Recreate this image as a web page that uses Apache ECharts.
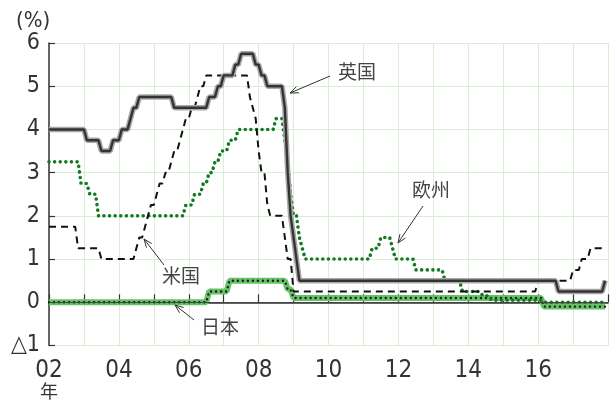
<!DOCTYPE html>
<html>
<head>
<meta charset="utf-8">
<script src="https://cdn.jsdelivr.net/npm/echarts@6/dist/echarts.min.js"></script>
<style>
  html, body { margin: 0; background: #fff; }
  #chart { width: 611px; height: 400px; }
</style>
</head>
<body>
<div id="chart"></div>
<script>
// 政策金利の変更点 [年, 月, %]
var ukChanges = [
  [2002,1,4.0],[2003,2,3.75],[2003,7,3.5],[2003,11,3.75],[2004,2,4.0],[2004,5,4.25],
  [2004,6,4.5],[2004,8,4.75],[2005,8,4.5],[2006,8,4.75],[2006,11,5.0],[2007,1,5.25],
  [2007,5,5.5],[2007,7,5.75],[2007,12,5.5],[2008,2,5.25],[2008,4,5.0],[2008,10,4.5],
  [2008,11,3.0],[2008,12,2.0],[2009,1,1.5],[2009,2,1.0],[2009,3,0.5],[2016,8,0.25],
  [2017,12,0.5]
];
var usChanges = [
  [2002,1,1.75],[2002,11,1.25],[2003,7,1.0],[2004,7,1.25],[2004,8,1.5],[2004,10,1.75],
  [2004,11,2.0],[2004,12,2.25],[2005,2,2.5],[2005,3,2.75],[2005,5,3.0],[2005,7,3.25],
  [2005,8,3.5],[2005,10,3.75],[2005,11,4.0],[2005,12,4.25],[2006,2,4.5],[2006,4,4.75],
  [2006,5,5.0],[2006,7,5.25],[2007,10,4.75],[2007,11,4.5],[2007,12,4.25],[2008,1,3.5],
  [2008,2,3.0],[2008,4,2.25],[2008,5,2.0],[2008,10,1.5],[2008,11,1.0],[2009,1,0.25],
  [2016,1,0.5],[2017,1,0.75],[2017,4,1.0],[2017,7,1.25]
];
var euChanges = [
  [2002,1,3.25],[2002,12,2.75],[2003,3,2.5],[2003,6,2.0],[2005,12,2.25],[2006,3,2.5],
  [2006,6,2.75],[2006,8,3.0],[2006,10,3.25],[2006,12,3.5],[2007,3,3.75],[2007,6,4.0],
  [2008,7,4.25],[2008,10,3.75],[2008,11,3.25],[2008,12,2.5],[2009,1,2.0],[2009,3,1.5],
  [2009,4,1.25],[2009,5,1.0],[2011,4,1.25],[2011,7,1.5],[2011,11,1.25],[2011,12,1.0],
  [2012,7,0.75],[2013,5,0.5],[2013,11,0.25],[2014,6,0.15],[2014,9,0.05],[2016,3,0.0]
];
var jpChanges = [
  [2002,1,0.0],[2006,8,0.25],[2007,3,0.5],[2008,11,0.3],[2009,1,0.1],[2016,3,-0.1]
];
var lastMonth = [2017, 12];

var yearTicks = ['02','04','06','08','10','12','14','16'];

function toTime(y, m) { return y + (m - 1) / 12; }

// 月次の折れ線にする（変更前月の点を角として入れる）
function buildLine(changes) {
  var pts = [];
  changes.forEach(function (c, i) {
    var t = toTime(c[0], c[1]);
    if (i > 0) pts.push([t - 1 / 12, changes[i - 1][2]]);
    pts.push([t, c[2]]);
  });
  pts.push([toTime(lastMonth[0], lastMonth[1]), changes[changes.length - 1][2]]);
  return pts;
}

var numFont = '"Liberation Sans Narrow", "DejaVu Sans Condensed", "Roboto", sans-serif';
var cjkFont = '"Noto Sans CJK JP", sans-serif';
var gridColor = '#d9eed5';

var ukData = buildLine(ukChanges);
var usData = buildLine(usChanges);
var euData = buildLine(euChanges);
var jpData = buildLine(jpChanges);

// 注記と矢印
var notes = [
  { text: '英国', pos: [357, 72],  from: [330, 76],  to: [290, 93] },
  { text: '欧州', pos: [431, 190], from: [423, 206], to: [398, 243] },
  { text: '米国', pos: [181, 276], from: [164, 265], to: [144, 239] },
  { text: '日本', pos: [220, 327], from: [194, 320], to: [175, 305] }
];
var graphics = [];
notes.forEach(function (n) {
  var a = Math.atan2(n.from[1] - n.to[1], n.from[0] - n.to[0]);
  var L = 9, s = 0.38;
  graphics.push({
    type: 'line', silent: true, z: 100,
    shape: { x1: n.from[0], y1: n.from[1], x2: n.to[0], y2: n.to[1] },
    style: { stroke: '#333', lineWidth: 1 }
  });
  graphics.push({
    type: 'polyline', silent: true, z: 100,
    shape: { points: [
      [n.to[0] + L * Math.cos(a + s), n.to[1] + L * Math.sin(a + s)],
      n.to,
      [n.to[0] + L * Math.cos(a - s), n.to[1] + L * Math.sin(a - s)]
    ] },
    style: { stroke: '#333', fill: 'none', lineWidth: 1 }
  });
  graphics.push({
    type: 'text', silent: true, z: 100, x: n.pos[0], y: n.pos[1],
    style: { text: n.text, fontSize: 19, fontFamily: cjkFont, fill: '#444',
             align: 'center', verticalAlign: 'middle' }
  });
});

var myChart = echarts.init(document.getElementById('chart'));
var option = {
  animation: false,
  title: {
    text: '(%)', left: 11, top: 5,
    textStyle: { fontSize: 22, fontWeight: 'normal', color: '#333', fontFamily: numFont }
  },
  grid: { left: 49, right: 2, top: 43, bottom: 54 },
  xAxis: {
    type: 'value', min: 2002, max: 2018, interval: 1,
    axisLine: { show: true, lineStyle: { color: '#333', width: 1.5 } },
    axisTick: { show: true, inside: true, length: 8, lineStyle: { color: '#333', width: 1.2 } },
    splitLine: { show: true, lineStyle: { color: gridColor, width: 1 } },
    axisLabel: {
      margin: 14, color: '#333',
      formatter: function (v) {
        var label = String(v).slice(2);
        if (yearTicks.indexOf(label) < 0) return '';
        return v === 2002 ? '{n|' + label + '}\n{k|年}' : '{n|' + label + '}';
      },
      rich: {
        n: { fontSize: 24, fontFamily: numFont, color: '#333', lineHeight: 22 },
        k: { fontSize: 18, fontFamily: cjkFont, color: '#333', lineHeight: 19 }
      }
    }
  },
  yAxis: {
    type: 'value', min: -1, max: 6, interval: 1,
    axisLine: { show: true, lineStyle: { color: '#333', width: 1.5 } },
    axisTick: { show: true, inside: true, length: 6, lineStyle: { color: '#333', width: 1.2 } },
    splitLine: { show: true, lineStyle: { color: gridColor, width: 1 } },
    axisLabel: {
      margin: 9, color: '#333', fontSize: 23, fontFamily: numFont,
      formatter: function (v) { return v < 0 ? '△' + Math.abs(v) : String(v); }
    }
  },
  graphic: graphics,
  series: [
    {
      // ゼロ線
      type: 'line', data: [], z: 1, silent: true,
      markLine: {
        silent: true, symbol: 'none', label: { show: false },
        lineStyle: { color: '#444', width: 1, type: 'solid' },
        data: [{ yAxis: 0 }]
      }
    },
    {
      name: '日本', type: 'line', data: jpData, z: 2, showSymbol: false,
      lineStyle: { color: '#66c266', width: 6 }
    },
    {
      name: '日本', type: 'line', data: jpData, z: 3, showSymbol: false,
      lineStyle: { color: '#1a1a1a', width: 2.4, type: [0.01, 5], cap: 'round' }
    },
    {
      name: '欧州', type: 'line', data: euData, z: 4, showSymbol: false,
      lineStyle: { color: '#137a22', width: 3.6, type: [0.01, 5.6], cap: 'round' }
    },
    {
      name: '米国', type: 'line', data: usData, z: 5, showSymbol: false,
      lineStyle: { color: '#111', width: 2, type: [7, 5] }
    },
    {
      name: '英国', type: 'line', data: ukData, z: 6, showSymbol: false,
      lineStyle: { color: '#a8a8a8', width: 5.5 }
    },
    {
      name: '英国', type: 'line', data: ukData, z: 7, showSymbol: false,
      lineStyle: { color: '#333', width: 2.4 }
    }
  ]
};
myChart.setOption(option);
</script>
</body>
</html>
